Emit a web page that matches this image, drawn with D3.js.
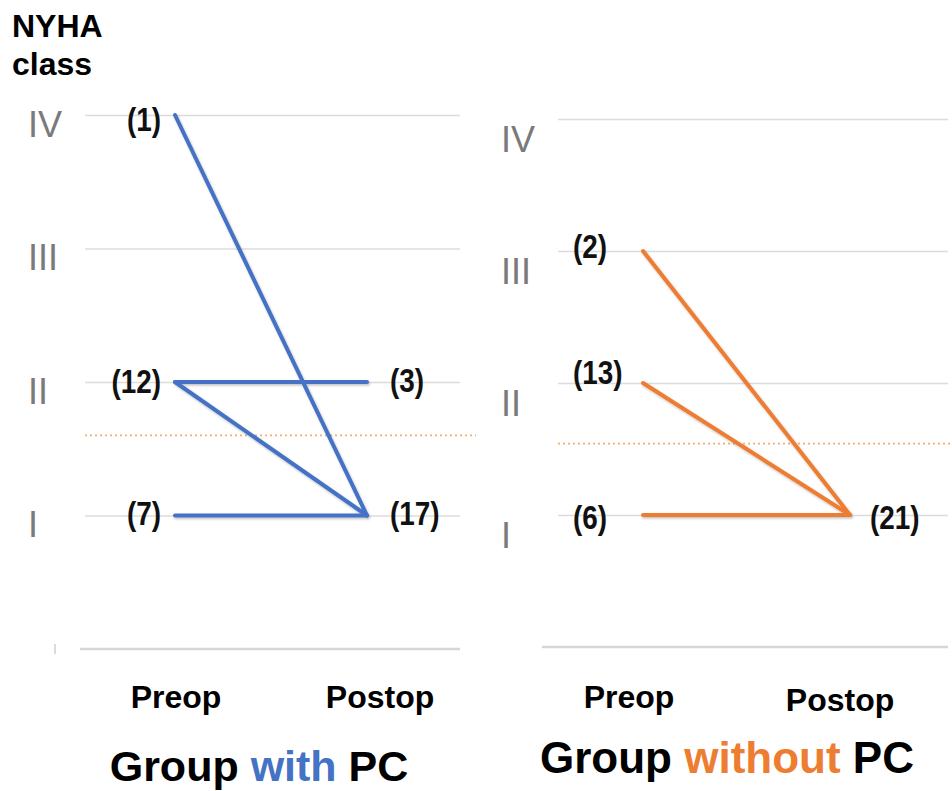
<!DOCTYPE html>
<html><head><meta charset="utf-8">
<script src="https://cdn.jsdelivr.net/npm/d3@7/dist/d3.min.js"></script>
<style>
html,body{margin:0;padding:0;background:#fff;}
svg{display:block;font-family:"Liberation Sans",Arial,sans-serif;}
</style></head>
<body>
<script>
// ---- data ----
const classLabels = ["I", "II", "III", "IV"];
const classValues = [1, 2, 3, 4];
const stages = ["Preop", "Postop"];

// Group with PC: patient transitions (preop class -> postop class)
const withFrom = [4, 2, 2, 1];
const withTo   = [1, 2, 1, 1];
const withPreClass  = [4, 2, 1];
const withPreN      = [1, 12, 7];
const withPostClass = [2, 1];
const withPostN     = [3, 17];
const withThreshold = 1.6;

// Group without PC
const withoutFrom = [3, 2, 1];
const withoutTo   = [1, 1, 1];
const withoutPreClass  = [3, 2, 1];
const withoutPreN      = [2, 13, 6];
const withoutPostClass = [1];
const withoutPostN     = [21];
const withoutThreshold = 1.54;

// ---- layout ----
const W = 952, H = 791;
const svg = d3.select("body").append("svg").attr("width", W).attr("height", H);

const defs = svg.append("defs");
const f = defs.append("filter").attr("id", "sh").attr("x", "-10%").attr("y", "-10%").attr("width", "120%").attr("height", "120%");
f.append("feDropShadow").attr("dx", 1).attr("dy", 1.5).attr("stdDeviation", 1.2).attr("flood-color", "#000").attr("flood-opacity", 0.25);

const panels = [
  {
    from: withFrom, to: withTo, preC: withPreClass, preN: withPreN, postC: withPostClass, postN: withPostN,
    thr: withThreshold, color: "#4472C4",
    gx0: 85, gx1: 460, bx0: 80, tx1: 476, px0: 175, px1: 367, yTop: 115, yZero: 649,
    tickDy: 21, preAnchor: "end", preDx: -14, postDx: 23,
    preDy: [5, 0, -2], postDy: [-1, -2],
    stageX: [176, 380], stageY: [708, 708],
    title: ["Group ", "with", " PC"], titleX: 259, titleY: 781, titleSize: 43
  },
  {
    from: withoutFrom, to: withoutTo, preC: withoutPreClass, preN: withoutPreN, postC: withoutPostClass, postN: withoutPostN,
    thr: withoutThreshold, color: "#ED7D31",
    gx0: 558, gx1: 948, bx0: 542, tx1: 952, px0: 643, px1: 850, yTop: 119, yZero: 647,
    tickDy: 32, preAnchor: "start", preDx: -70, postDx: 20,
    preDy: [-4, -10, 3], postDy: [3],
    stageX: [629, 840], stageY: [708, 711],
    title: ["Group ", "without", " PC"], titleX: 727, titleY: 773, titleSize: 44
  }
];

const SX = 0.82; // condensed look for count labels

panels.forEach((p, pi) => {
  const g = svg.append("g");
  const y = d3.scaleLinear().domain([0, 4]).range([p.yZero, p.yTop]);
  const x = d3.scalePoint().domain(stages).range([p.px0, p.px1]);

  // grid + class labels via axis
  const ax = g.append("g").attr("transform", `translate(${p.gx0},0)`)
    .call(d3.axisLeft(y).tickValues(classValues)
      .tickFormat((d, i) => classLabels[i])
      .tickSize(-(p.gx1 - p.gx0)).tickPadding(0));
  ax.select(".domain").remove();
  ax.selectAll(".tick line").attr("stroke", "#dcdcdc").attr("stroke-width", 1.5);
  ax.selectAll(".tick text")
    .attr("x", -57).attr("dy", null).attr("y", p.tickDy)
    .attr("text-anchor", "start")
    .attr("fill", "#7a7a7a")
    .style("font-size", "36px").style("font-family", "'Liberation Sans',Arial,sans-serif");

  // baseline at 0
  g.append("line").attr("x1", p.bx0).attr("x2", p.gx1).attr("y1", y(0)).attr("y2", y(0))
    .attr("stroke", "#d6d6d6").attr("stroke-width", 2.5);
  if (pi === 0) {
    g.append("line").attr("x1", 55).attr("x2", 55).attr("y1", y(0) - 5).attr("y2", y(0) + 5)
      .attr("stroke", "#cfcfcf").attr("stroke-width", 1.5);
  }

  // threshold dotted line
  g.append("line").attr("x1", p.gx0).attr("x2", p.tx1).attr("y1", y(p.thr)).attr("y2", y(p.thr))
    .attr("stroke", "#F3AE6E").attr("stroke-width", 1.8).attr("stroke-dasharray", "2,3");

  // transitions
  const links = p.from.map((c, i) => ({ a: c, b: p.to[i] }));
  g.append("g").attr("filter", "url(#sh)").selectAll("line").data(links).join("line")
    .attr("x1", x("Preop")).attr("y1", d => y(d.a))
    .attr("x2", x("Postop")).attr("y2", d => y(d.b))
    .attr("stroke", p.color).attr("stroke-width", 4).attr("stroke-linecap", "round");

  // preop counts
  g.selectAll(".pre").data(p.preC).join("text").attr("class", "pre")
    .attr("transform", (d, i) => `translate(${x("Preop") + p.preDx},${y(d) + p.preDy[i]}) scale(${SX},1)`)
    .attr("dominant-baseline", "central").attr("text-anchor", p.preAnchor)
    .style("font-weight", "bold").style("font-size", "34px")
    .attr("fill", "#111").text((d, i) => `(${p.preN[i]})`);
  // postop counts
  g.selectAll(".post").data(p.postC).join("text").attr("class", "post")
    .attr("transform", (d, i) => `translate(${x("Postop") + p.postDx},${y(d) + p.postDy[i]}) scale(${SX},1)`)
    .attr("dominant-baseline", "central").attr("text-anchor", "start")
    .style("font-weight", "bold").style("font-size", "34px")
    .attr("fill", "#111").text((d, i) => `(${p.postN[i]})`);

  // stage labels
  g.selectAll(".stage").data(stages).join("text").attr("class", "stage")
    .attr("x", (d, i) => p.stageX[i]).attr("y", (d, i) => p.stageY[i])
    .attr("text-anchor", "middle").style("font-weight", "bold").style("font-size", "32px")
    .attr("fill", "#000").text(d => d);

  // title
  const t = g.append("text").attr("x", p.titleX).attr("y", p.titleY).attr("text-anchor", "middle")
    .style("font-weight", "bold").style("font-size", p.titleSize + "px");
  t.append("tspan").attr("fill", "#000").text(p.title[0]);
  t.append("tspan").attr("fill", p.color).text(p.title[1]);
  t.append("tspan").attr("fill", "#000").text(p.title[2]);
});

// y-axis title
const yt = svg.append("text").attr("x", 12).style("font-weight", "bold").style("font-size", "32px").attr("fill", "#000");
yt.append("tspan").attr("x", 12).attr("y", 37).text("NYHA");
yt.append("tspan").attr("x", 12).attr("y", 75).text("class");
</script>
</body></html>
